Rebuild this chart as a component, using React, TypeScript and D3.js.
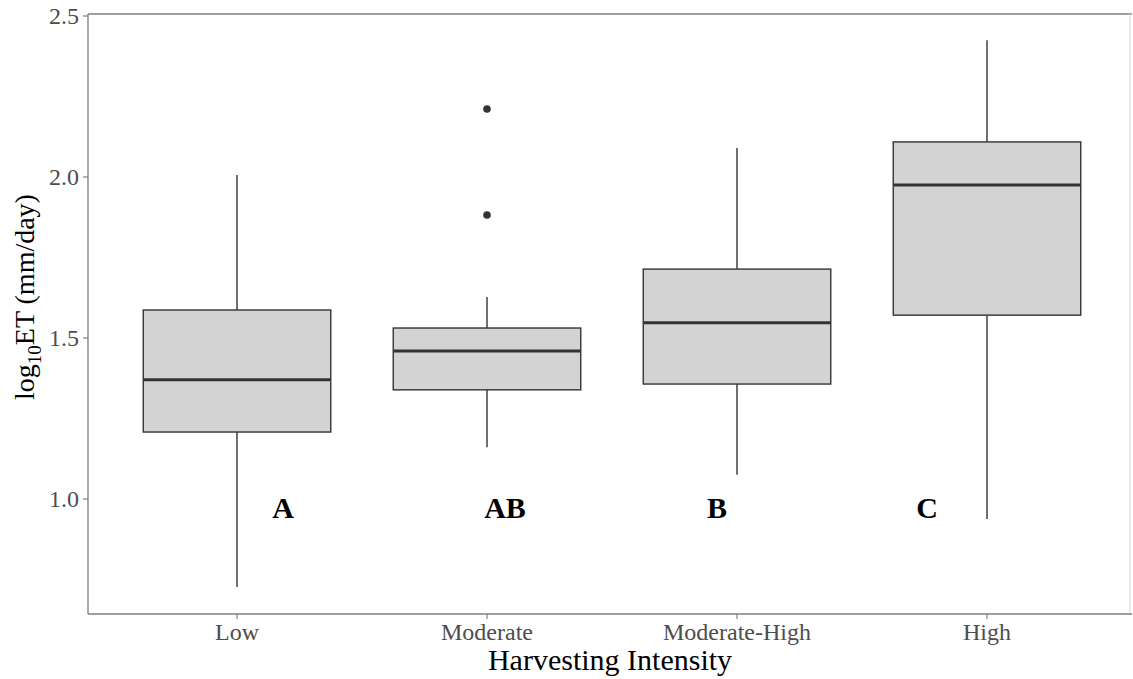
import React from "react";
import * as d3 from "d3";

// Harvesting intensity groups and their box-plot summaries (log10 ET, mm/day)
const categories = ["Low", "Moderate", "Moderate-High", "High"];
const whiskerLow = [0.727, 1.161, 1.075, 0.938];
const q1 = [1.208, 1.339, 1.357, 1.571];
const median = [1.370, 1.460, 1.547, 1.975];
const q3 = [1.587, 1.531, 1.714, 2.109];
const whiskerHigh = [2.006, 1.627, 2.090, 2.425];

// Outlying observations
const outlierCategory = ["Moderate", "Moderate"];
const outlierValue = [2.211, 1.882];

// Significance-group letters, placed on the numeric x position of the discrete axis
const letterText = ["A", "AB", "B", "C"];
const letterX = [1.184, 2.072, 2.92, 3.76];
const letterY = [0.975, 0.975, 0.975, 0.975];

const yTicks = [1.0, 1.5, 2.0, 2.5];

const W = 1133;
const H = 679;
const panel = { left: 88, right: 1130, top: 14, bottom: 614 };

export default function App() {
  const x = d3
    .scalePoint<string>()
    .domain(categories)
    .range([87, 1137])
    .padding(0.6);
  const xNum = d3
    .scaleLinear()
    .domain([0.4, 4.6])
    .range([87, 1137]);
  const y = d3
    .scaleLinear()
    .domain([1.0, 2.5])
    .range([499, 16]);

  const boxW = x.step() * 0.75;
  const serif = "'Liberation Serif', 'Times New Roman', serif";
  const boxStroke = "#333333";
  const axisGrey = "#7f7f7f";

  return (
    <svg
      width={W}
      height={H}
      style={{ position: "absolute", left: 0, top: 0, background: "#ffffff" }}
      fontFamily={serif}
    >
      <rect x={0} y={0} width={W} height={H} fill="#ffffff" />

      {/* boxes */}
      {categories.map((c, i) => {
        const cx = x(c) as number;
        return (
          <g key={c}>
            <line x1={cx} x2={cx} y1={y(whiskerHigh[i])} y2={y(q3[i])} stroke={boxStroke} strokeWidth={1.4} />
            <line x1={cx} x2={cx} y1={y(q1[i])} y2={y(whiskerLow[i])} stroke={boxStroke} strokeWidth={1.4} />
            <rect
              x={cx - boxW / 2}
              y={y(q3[i])}
              width={boxW}
              height={y(q1[i]) - y(q3[i])}
              fill="#d3d3d3"
              stroke={boxStroke}
              strokeWidth={1.4}
            />
            <line
              x1={cx - boxW / 2}
              x2={cx + boxW / 2}
              y1={y(median[i])}
              y2={y(median[i])}
              stroke={boxStroke}
              strokeWidth={3}
            />
          </g>
        );
      })}

      {/* outliers */}
      {outlierValue.map((v, i) => (
        <circle key={i} cx={x(outlierCategory[i]) as number} cy={y(v)} r={3.8} fill="#333333" />
      ))}

      {/* group letters */}
      {letterText.map((t, i) => (
        <text
          key={t}
          x={xNum(letterX[i])}
          y={y(letterY[i])}
          dy="0.35em"
          textAnchor="middle"
          fontWeight="bold"
          fontSize={30}
          fill="#000000"
        >
          {t}
        </text>
      ))}

      {/* panel border: axis sides darker, far sides lighter */}
      <line x1={panel.left} x2={panel.right + 2} y1={panel.top} y2={panel.top} stroke={axisGrey} strokeWidth={1.3} />
      <line x1={panel.right} x2={panel.right} y1={panel.top} y2={panel.bottom} stroke="#dcdcdc" strokeWidth={1.2} />
      <line x1={panel.left} x2={panel.right + 2} y1={panel.bottom} y2={panel.bottom} stroke={axisGrey} strokeWidth={1.3} />
      <line x1={panel.left} x2={panel.left} y1={panel.top} y2={panel.bottom} stroke={axisGrey} strokeWidth={1.3} />

      {/* y axis */}
      {yTicks.map((t) => (
        <g key={t}>
          <line x1={panel.left - 5} x2={panel.left} y1={y(t)} y2={y(t)} stroke={axisGrey} strokeWidth={1.2} />
          <text x={panel.left - 9} y={y(t)} dy="0.35em" textAnchor="end" fontSize={24} fill="#4d4d4d">
            {d3.format(".1f")(t)}
          </text>
        </g>
      ))}

      {/* x axis */}
      {categories.map((c) => (
        <g key={c}>
          <line x1={x(c) as number} x2={x(c) as number} y1={panel.bottom} y2={panel.bottom + 5} stroke={axisGrey} strokeWidth={1.2} />
          <text x={x(c) as number} y={640} textAnchor="middle" fontSize={24} fill="#4d4d4d">
            {c}
          </text>
        </g>
      ))}

      {/* axis titles */}
      <text x={610} y={670} textAnchor="middle" fontSize={30} fill="#000000">
        Harvesting Intensity
      </text>
      <text
        transform="translate(34, 297) rotate(-90)"
        textAnchor="middle"
        fontSize={28}
        fill="#000000"
      >
        log
        <tspan fontSize={19} dy={7}>10</tspan>
        <tspan dy={-7}>ET (mm/day)</tspan>
      </text>
    </svg>
  );
}
